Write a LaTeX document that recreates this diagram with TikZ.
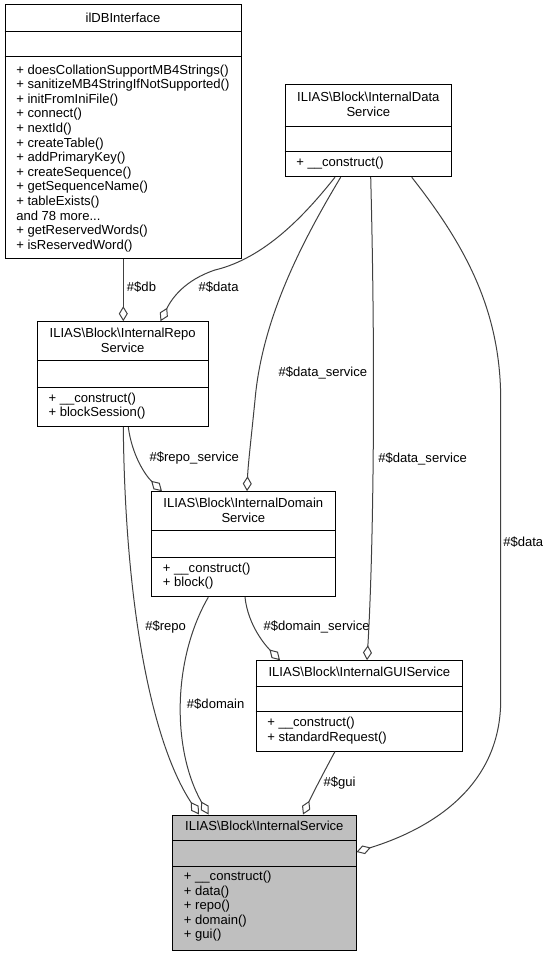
\documentclass[tikz,border=0pt]{standalone}
\usepackage{fontspec}
\setmainfont{Liberation Sans}
\usetikzlibrary{arrows.meta,fit,calc}
\definecolor{edgegray}{HTML}{404040}
\definecolor{hilite}{HTML}{BFBFBF}
\newcommand{\andmoretext}{and 78 more...}
\begin{document}
\begin{tikzpicture}[x=0.75pt,y=-0.75pt,
  font=\fontsize{9.8pt}{11pt}\selectfont,
  cls/.style={draw=black, line width=0.75pt, fill=white, inner sep=0pt},
  sepline/.style={draw=black, line width=0.75pt},
  txt/.style={inner sep=0pt, anchor=mid west},
  ttl/.style={inner sep=0pt, anchor=mid},
  lbl/.style={inner sep=0pt, anchor=mid west},
  edge/.style={draw=edgegray, line width=0.75pt, line join=miter,
    -{Diamond[open,length=11.25pt,width=6.75pt]}}]
\useasboundingbox (0,0) rectangle (550,956);

% ---------- ilDBInterface ----------
\node[cls, fit={(5,5)(241,258)}] (db) {};
\draw[sepline] (db.west |- 0,32) -- (db.east |- 0,32);
\draw[sepline] (db.west |- 0,57) -- (db.east |- 0,57);
\node[ttl] (dbt) at (123,18.5) {ilDBInterface};
\foreach \t [count=\i from 0] in {+ doesCollationSupportMB4Strings(),
  + sanitizeMB4StringIfNotSupported(), + initFromIniFile(), + connect(),
  + nextId(), + createTable(), + addPrimaryKey(), + createSequence(),
  + getSequenceName(), + tableExists(), \andmoretext, + getReservedWords(),
  + isReservedWord()}
  \node[txt] (dbm\i) at (16,70.5+\i*14.6) {\t};

% ---------- InternalDataService ----------
\node[cls, fit={(285,85)(451.7,176.7)}] (data) {};
\draw[sepline] (data.west |- 0,126.7) -- (data.east |- 0,126.7);
\draw[sepline] (data.west |- 0,151.7) -- (data.east |- 0,151.7);
\node[ttl] (datat1) at (368.3,98.3) {ILIAS\textbackslash Block\textbackslash InternalData};
\node[ttl] (datat2) at (368.3,112.9) {Service};
\node[txt] (datam0) at (296,163.3) {+ \_\_construct()};

% ---------- InternalRepoService ----------
\node[cls, fit={(37.3,321.7)(208,426.7)}] (repo) {};
\draw[sepline] (repo.west |- 0,360.7) -- (repo.east |- 0,360.7);
\draw[sepline] (repo.west |- 0,387.3) -- (repo.east |- 0,387.3);
\node[ttl] (repot1) at (122.7,334.3) {ILIAS\textbackslash Block\textbackslash InternalRepo};
\node[ttl] (repot2) at (122.7,348.9) {Service};
\node[txt] (repom0) at (48.3,398.7) {+ \_\_construct()};
\node[txt] (repom1) at (48.3,413.3) {+ blockSession()};

% ---------- InternalDomainService ----------
\node[cls, fit={(151.7,491.7)(335,596.7)}] (domain) {};
\draw[sepline] (domain.west |- 0,530.7) -- (domain.east |- 0,530.7);
\draw[sepline] (domain.west |- 0,557.3) -- (domain.east |- 0,557.3);
\node[ttl] (domaint1) at (243.3,504.3) {ILIAS\textbackslash Block\textbackslash InternalDomain};
\node[ttl] (domaint2) at (243.3,518.9) {Service};
\node[txt] (domainm0) at (162.7,568.7) {+ \_\_construct()};
\node[txt] (domainm1) at (162.7,583.3) {+ block()};

% ---------- InternalGUIService ----------
\node[cls, fit={(256,660.7)(462.7,751)}] (gui) {};
\draw[sepline] (gui.west |- 0,686) -- (gui.east |- 0,686);
\draw[sepline] (gui.west |- 0,711) -- (gui.east |- 0,711);
\node[ttl] (guit) at (359.3,672.7) {ILIAS\textbackslash Block\textbackslash InternalGUIService};
\node[txt] (guim0) at (267,723.3) {+ \_\_construct()};
\node[txt] (guim1) at (267,737.9) {+ standardRequest()};

% ---------- InternalService ----------
\node[cls, fill=hilite, fit={(172.7,815)(356,950)}] (service) {};
\draw[sepline] (service.west |- 0,840) -- (service.east |- 0,840);
\draw[sepline] (service.west |- 0,866) -- (service.east |- 0,866);
\node[ttl] (servicet) at (264.3,826.7) {ILIAS\textbackslash Block\textbackslash InternalService};
\foreach \t [count=\i from 0] in {+ \_\_construct(), + data(), + repo(), + domain(), + gui()}
  \node[txt] (servicem\i) at (183.7,877+\i*14.6) {\t};

% ---------- connectors ----------
\draw[edge] (db.south -| 123.3,0) -- (repo.north -| 123.3,0);
\draw[edge] (data.south -| 335,0) .. controls (305,215) and (265,258) .. (215,270)
  .. controls (185,280) and (172,298) .. (repo.north -| 160.5,0);
\draw[edge] (data.south -| 340.7,0) .. controls (300,245) and (262,320) .. (255,400)
  .. controls (251,440) and (248,465) .. (domain.north -| 247,0);
\draw[edge] (data.south -| 370.7,0) .. controls (376,380) and (373,560) .. (gui.north -| 367,0);
\draw[edge] (data.south -| 411.7,0) .. controls (465,245) and (500.7,310) .. (500.7,400)
  -- (500.7,700) .. controls (500.7,790) and (426,830.4) .. (service.east |- 0,852);
\draw[edge] (repo.south -| 128.3,0) .. controls (132,455) and (145,475) .. (domain.north -| 162,0);
\draw[edge] (repo.south -| 123.3,0) .. controls (125,600) and (150,740) .. (service.north -| 199,0);
\draw[edge] (domain.south -| 208.3,0) .. controls (172,660) and (172,750) .. (service.north -| 208.5,0);
\draw[edge] (domain.south -| 245,0) .. controls (248,625) and (265,645) .. (gui.north -| 280,0);
\draw[edge] (gui.south -| 335,0) .. controls (325,770) and (312,795) .. (service.north -| 303,0);

% ---------- connector labels ----------
\node[lbl] (ldb) at (126.7,288.3) {\#\$db};
\node[lbl] (ldata1) at (198.3,288.3) {\#\$data};
\node[lbl] (lds1) at (278.3,373.3) {\#\$data\_service};
\node[lbl] (lds2) at (378,459.3) {\#\$data\_service};
\node[lbl] (ldata2) at (503,542.7) {\#\$data};
\node[lbl] (lrs) at (149.3,458.3) {\#\$repo\_service};
\node[lbl] (lrepo) at (145,627.3) {\#\$repo};
\node[lbl] (ldomain) at (186.7,705) {\#\$domain};
\node[lbl] (ldoms) at (263.3,627.3) {\#\$domain\_service};
\node[lbl] (lgui) at (323.3,782.7) {\#\$gui};
\end{tikzpicture}
\end{document}
